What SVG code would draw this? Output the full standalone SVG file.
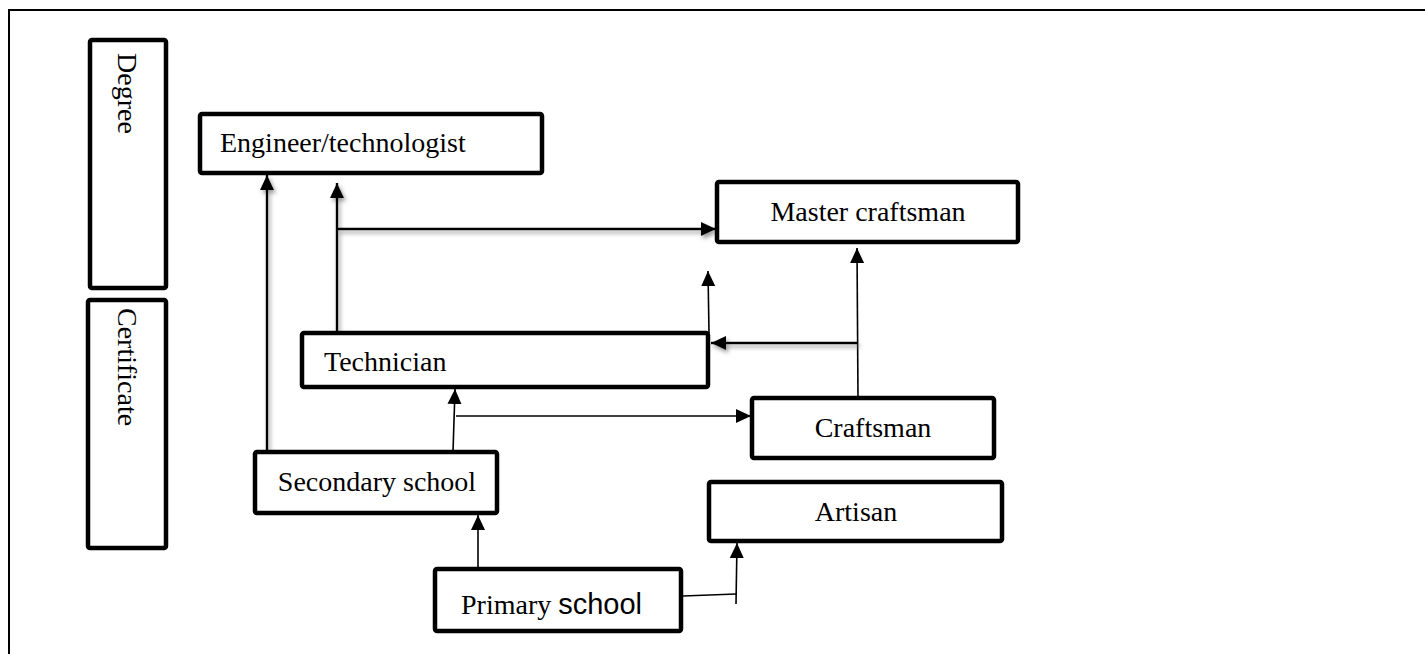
<svg xmlns="http://www.w3.org/2000/svg" width="1425" height="654" viewBox="0 0 1425 654">
<style>
.box{fill:#fff;stroke:#000;stroke-width:4.5;stroke-linejoin:round}
.t{font-family:"Liberation Serif","DejaVu Serif",serif;font-size:28px;fill:#000}
.s{font-family:"Liberation Sans",Arial,sans-serif;font-size:29px}
.c{fill:none;stroke:#000}
.thick{stroke-width:2.4;filter:url(#sh)}
.thin{stroke-width:1.6}
</style>
<defs>
<marker id="ah" markerUnits="userSpaceOnUse" markerWidth="16" markerHeight="16" refX="15" refY="8" orient="auto" viewBox="0 0 16 16">
<path d="M0,1 L15,8 L0,15 z" fill="#000"/>
</marker>
<filter id="sh" filterUnits="userSpaceOnUse" x="0" y="0" width="1425" height="654">
<feDropShadow dx="2" dy="3" stdDeviation="2.2" flood-color="#777" flood-opacity="0.75"/>
</filter>
</defs>
<rect width="1425" height="654" fill="#fff"/>
<path d="M9,654 V10 H1425" fill="none" stroke="#000" stroke-width="2"/>
<g id="degree">
<rect class="box" x="90" y="40" width="76" height="248" rx="2"/>
<text class="t" transform="translate(118,53) rotate(90)">Degree</text>
</g>
<g id="certificate">
<rect class="box" x="88" y="300" width="78" height="248" rx="2"/>
<text class="t" transform="translate(118,308) rotate(90)">Certificate</text>
</g>
<g id="connectors">
<path class="c thick" d="M267,452 V175" marker-end="url(#ah)"/>
<path class="c thick" d="M337,331 V183" marker-end="url(#ah)"/>
<path class="c thick" d="M337,229 H716" marker-end="url(#ah)"/>
<path class="c thin" d="M709,333 L708,271" marker-end="url(#ah)"/>
<path class="c thin" d="M858,398 L857,248" marker-end="url(#ah)"/>
<path class="c thick" d="M858,343 H711" marker-end="url(#ah)"/>
<path class="c thin" d="M453,452 L455,389" marker-end="url(#ah)"/>
<path class="c thin" d="M456,416 H751" marker-end="url(#ah)"/>
<path class="c thin" d="M478,574 V515" marker-end="url(#ah)"/>
<path class="c thin" d="M683,596 L736,594"/>
<path class="c thin" d="M736,604 L737,543" marker-end="url(#ah)"/>
</g>
<g id="engineer">
<rect class="box" x="200" y="114" width="342" height="59" rx="2"/>
<text class="t" x="220" y="152">Engineer/technologist</text>
</g>
<g id="master">
<rect class="box" x="717" y="182" width="301" height="60" rx="2"/>
<text class="t" x="868" y="221" text-anchor="middle">Master craftsman</text>
</g>
<g id="technician">
<rect class="box" x="302" y="333" width="406" height="54" rx="2"/>
<text class="t" x="324" y="371">Technician</text>
</g>
<g id="craftsman">
<rect class="box" x="752" y="398" width="242" height="60" rx="2"/>
<text class="t" x="873" y="437" text-anchor="middle">Craftsman</text>
</g>
<g id="secondary">
<rect class="box" x="255" y="452" width="242" height="61" rx="2"/>
<text class="t" x="377" y="491" text-anchor="middle">Secondary school</text>
</g>
<g id="artisan">
<rect class="box" x="709" y="482" width="293" height="59" rx="2"/>
<text class="t" x="856" y="521" text-anchor="middle">Artisan</text>
</g>
<g id="primary">
<rect class="box" x="435" y="569" width="246" height="62" rx="2"/>
<text class="t" x="461" y="614">Primary <tspan class="s">school</tspan></text>
</g>
</svg>
